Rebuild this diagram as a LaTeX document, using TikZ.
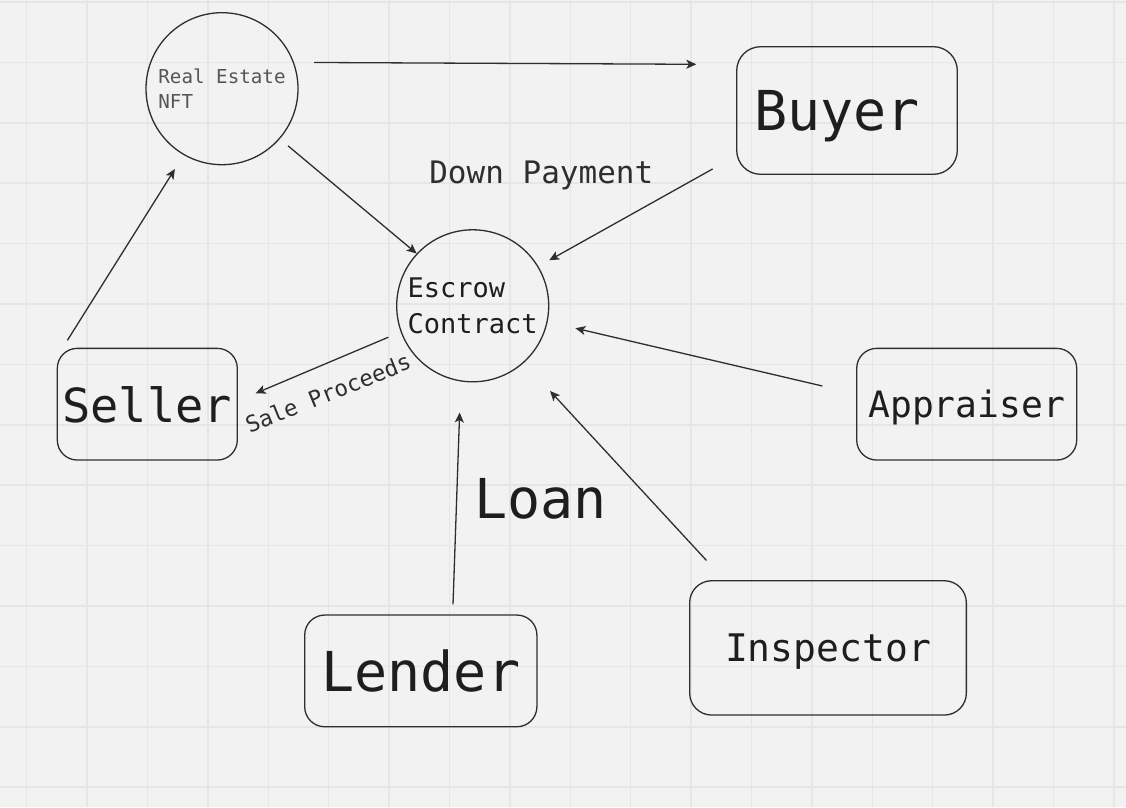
\documentclass[tikz,border=0pt]{standalone}
\usepackage{fontspec}
\setmonofont{DejaVu Sans Mono}
\usepackage{xcolor}
\usepackage{tikz}
\usetikzlibrary{shapes,arrows.meta}
\usetikzlibrary{positioning}
\definecolor{paper}{HTML}{F2F2F2}
\definecolor{gridgray}{HTML}{E6E6E6}
\definecolor{ink}{HTML}{1E1E1E}
\definecolor{pen}{HTML}{2E2E2E}
\definecolor{faint}{HTML}{555555}
\tikzstyle{block} = [rectangle, draw=pen, line width=1.3pt, rounded corners=20pt,
    text=ink, inner sep=0pt, text depth=0pt]
\tikzstyle{contract} = [circle, draw=pen, line width=1.3pt, minimum size=152pt,
    inner sep=0pt, align=left, text=ink]
\tikzstyle{line} = [draw=pen, line width=1.3pt,
    -{Stealth[length=10pt, width=9pt, inset=2.5pt]}]
\tikzstyle{tag} = [inner sep=0pt, text=ink]
\tikzstyle{gridline} = [draw=gridgray, line width=1.5pt]

\begin{document}
\begin{tikzpicture}[x=1pt, y=1pt, on grid]
  % Background and grid
  \fill [paper] (0,0) rectangle (1126,807);
  \useasboundingbox (0,0) rectangle (1126,807);
  \draw [gridline, step=60.4pt, shift={(26.7,19.8)}] (-26.7,-19.8) grid (1099.3,787.2);

  % Place nodes
  \node [contract, font=\ttfamily\fontsize{27}{36.6}\selectfont] (escrow) at (472.7,501.2) {Escrow\\Contract};
  \node [contract, text=faint, font=\ttfamily\fontsize{19.2}{25}\selectfont,
    above left=217.1pt and 250.7pt of escrow] (nft) {Real Estate\\NFT};
  \node [block, rounded corners=24pt, minimum width=220.6pt, minimum height=127.6pt,
    font=\ttfamily\fontsize{55}{60}\selectfont,
    above right=195.3pt and 374.3pt of escrow] (buyer) {Buyer\hspace*{20pt}};
  \node [block, minimum width=180pt, minimum height=111.7pt,
    font=\ttfamily\fontsize{47}{52}\selectfont,
    below left=98.4pt and 325.4pt of escrow] (seller) {Seller};
  \node [block, minimum width=220pt, minimum height=111.7pt,
    font=\ttfamily\fontsize{36.3}{40}\selectfont,
    below right=98.4pt and 494pt of escrow] (appraiser) {Appraiser};
  \node [block, minimum width=232.2pt, minimum height=111.7pt,
    font=\ttfamily\fontsize{55}{60}\selectfont,
    below left=365.1pt and 51.9pt of escrow] (lender) {Lender};
  \node [block, rounded corners=22pt, minimum width=276.7pt, minimum height=134.3pt,
    font=\ttfamily\fontsize{38}{42}\selectfont,
    below right=342.1pt and 355.3pt of escrow] (inspector) {Inspector};

  % Labels
  \node [tag, anchor=base, text=pen, font=\ttfamily\fontsize{31}{34}\selectfont] (down) at (541.3,623.7) {Down Payment};
  \node [tag, anchor=base, font=\ttfamily\fontsize{55}{60}\selectfont] (loan) at (540.8,288.7) {Loan};
  \node [tag, rotate=22, text=pen, font=\ttfamily\fontsize{22.5}{25}\selectfont] (sale) at (328,414) {Sale Proceeds};

  % Connectors
  \path [line] ([xshift=20pt]nft.20) -- ([xshift=-39.7pt, yshift=46.2pt]buyer.west);
  \path [line, shorten <=10.7pt] (nft.-41) -- (escrow.137);
  \path [line, shorten >=12.4pt] ([xshift=-23.4pt, yshift=6pt]buyer.south west) -- (escrow.31);
  \path [line, shorten >=28.5pt] ([xshift=-33.7pt, yshift=18.2pt]appraiser.west) -- (escrow.-12);
  \path [line, shorten >=38.4pt] ([xshift=17.4pt, yshift=19.7pt]inspector.north west) -- (escrow.-48);
  \path [line, shorten >=31pt] ([xshift=32.2pt, yshift=10pt]lender.north) -- (escrow.-99);
  \path [line, shorten >=16.5pt] ([xshift=10.7pt, yshift=7.3pt]seller.north west) -- (nft.-120);
  \path [line, shorten <=13.4pt] (escrow.200) -- ([xshift=17.7pt, yshift=10.9pt]seller.east);

\end{tikzpicture}
\end{document}
